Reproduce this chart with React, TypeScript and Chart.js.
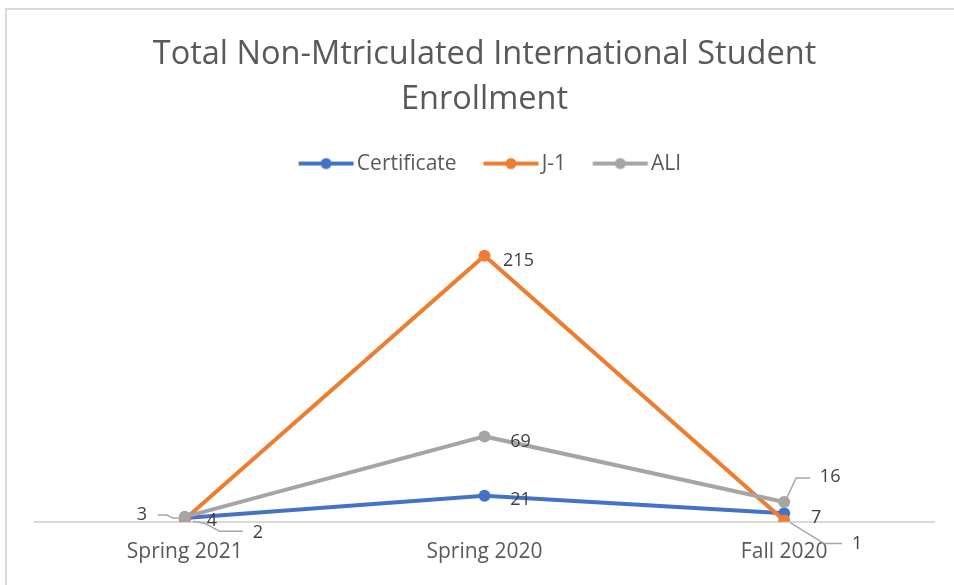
import React, { useEffect, useRef } from "react";
import { Chart, registerables } from "chart.js";

Chart.register(...registerables);

const titleLines = ["Total Non-Mtriculated International Student", "Enrollment"];
const categories = ["Spring 2021", "Spring 2020", "Fall 2020"];
const seriesNames = ["Certificate", "J-1", "ALI"];
const certificateValues = [3, 21, 7];
const j1Values = [2, 215, 1];
const aliValues = [4, 69, 16];
const seriesColors = ["#4472C4", "#ED7D31", "#A5A5A5"];
const yMin = 0;
const yMax = 273;

// label placement relative to each point: [dx, dy, leader polyline relative to point]
type LabelSpec = { dx: number; dy: number; leader?: number[][] };
const labelSpecs: LabelSpec[][] = [
  [
    { dx: -43, dy: -3, leader: [[-27, -3], [-18, -3], [-12, 0], [-6, 0]] },
    { dx: 36, dy: 4 },
    { dx: 32, dy: 5 },
  ],
  [
    { dx: 73, dy: 14, leader: [[8, 2], [20, 4], [35, 12], [58, 12]] },
    { dx: 34, dy: 5 },
    { dx: 73, dy: 23, leader: [[6, 2], [40, 23], [58, 23]] },
  ],
  [
    { dx: 27, dy: 4 },
    { dx: 36, dy: 5 },
    { dx: 46, dy: -25, leader: [[3, -5], [12, -24], [26, -24]] },
  ],
];

const FONT = "'Open Sans', 'Noto Sans', sans-serif";

function makeLegendImage(color: string): HTMLCanvasElement {
  const c = document.createElement("canvas");
  c.width = 80;
  c.height = 14;
  const ctx = c.getContext("2d")!;
  ctx.strokeStyle = color;
  ctx.lineWidth = 4;
  ctx.lineCap = "butt";
  ctx.beginPath();
  ctx.moveTo(21.5, 7);
  ctx.lineTo(76.5, 7);
  ctx.stroke();
  ctx.fillStyle = color;
  ctx.beginPath();
  ctx.arc(49, 7, 5.5, 0, Math.PI * 2);
  ctx.fill();
  return c;
}

const dataLabelPlugin = {
  id: "dataLabelPlugin",
  afterDatasetsDraw(chart: any) {
    const ctx = chart.ctx;
    ctx.save();
    chart.data.datasets.forEach((ds: any, di: number) => {
      const meta = chart.getDatasetMeta(di);
      meta.data.forEach((pt: any, i: number) => {
        const spec = labelSpecs[di][i];
        if (spec.leader) {
          ctx.strokeStyle = "#A6A6A6";
          ctx.lineWidth = 1.5;
          ctx.beginPath();
          spec.leader.forEach((p, k) => {
            if (k === 0) ctx.moveTo(pt.x + p[0], pt.y + p[1]);
            else ctx.lineTo(pt.x + p[0], pt.y + p[1]);
          });
          ctx.stroke();
        }
        ctx.fillStyle = "#404040";
        ctx.font = `18px ${FONT}`;
        ctx.textAlign = "center";
        ctx.textBaseline = "middle";
        ctx.fillText(String(ds.data[i]), pt.x + spec.dx, pt.y + spec.dy);
      });
    });
    ctx.restore();
  },
};

export default function App() {
  const ref = useRef<HTMLCanvasElement>(null);
  useEffect(() => {
    if (!ref.current) return;
    const images = seriesColors.map(makeLegendImage);
    const valuesList = [certificateValues, j1Values, aliValues];
    const chart = new Chart(ref.current, {
      type: "line",
      data: {
        labels: categories,
        datasets: seriesNames.map((name, i) => ({
          label: name,
          data: valuesList[i],
          borderColor: seriesColors[i],
          backgroundColor: seriesColors[i],
          borderWidth: 4,
          pointRadius: 6,
          pointHoverRadius: 6,
          pointBorderWidth: 0,
          order: 3 - i,
        })),
      },
      options: {
        animation: false,
        responsive: false,
        maintainAspectRatio: false,
        events: [],
        layout: { padding: { left: 35, right: 20, top: 0, bottom: 2 } },
        plugins: {
          title: {
            display: true,
            text: titleLines,
            color: "#595959",
            font: { family: FONT, size: 32.5, weight: "normal", lineHeight: 1.385 },
            padding: { top: 32, bottom: 15 },
          },
          legend: {
            display: true,
            position: "top",
            labels: {
              usePointStyle: true,
              pointStyleWidth: 58.5,
              color: "#595959",
              font: { family: FONT, size: 21 },
              padding: 16,
              sort: (a: any, b: any) => a.datasetIndex - b.datasetIndex,
              generateLabels: (chart: any) => {
                const items = (Chart.defaults.plugins.legend.labels as any).generateLabels(chart);
                return items.map((it: any) => ({ ...it, pointStyle: images[it.datasetIndex] }));
              },
            },
          },
          tooltip: { enabled: false },
        },
        scales: {
          x: {
            offset: true,
            grid: { display: false, drawTicks: false },
            border: { display: true, color: "#D9D9D9", width: 2 },
            ticks: {
              color: "#595959",
              font: { family: FONT, size: 21 },
              padding: 18,
            },
          },
          y: {
            display: false,
            min: yMin,
            max: yMax,
          },
        },
      },
      plugins: [dataLabelPlugin],
    });
    return () => chart.destroy();
  }, []);

  return (
    <div style={{ position: "fixed", left: 0, top: 0, width: 954, height: 585, background: "#fff", overflow: "hidden" }}>
      <div
        style={{
          position: "absolute",
          left: 5,
          top: 8,
          width: 1000,
          height: 700,
          border: "2px solid #DADADA",
        }}
      />
      <canvas ref={ref} width={954} height={585} style={{ position: "absolute", left: 0, top: 0 }} />
    </div>
  );
}
